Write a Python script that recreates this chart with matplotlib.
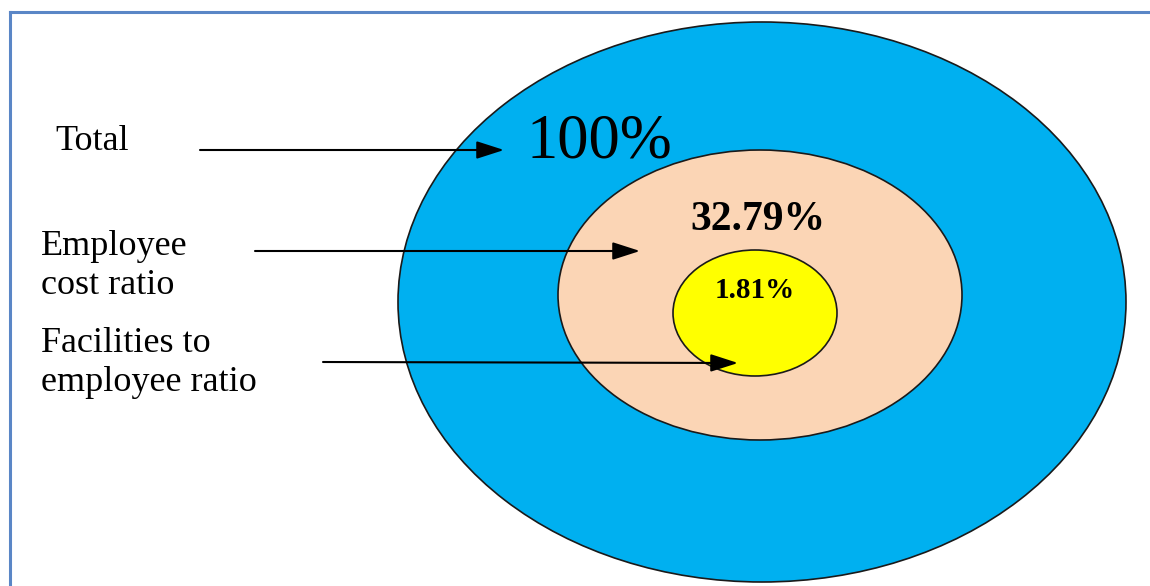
import matplotlib
matplotlib.use("Agg")
import matplotlib.pyplot as plt
from matplotlib.patches import Ellipse, FancyArrowPatch
from matplotlib.lines import Line2D

# Data
labels = ["Total", "Employee\ncost ratio", "Facilities to\nemployee ratio"]
values = ["100%", "32.79%", "1.81%"]
colors = ["#00B0F0", "#FBD5B5", "#FFFF00"]

# Layout (pixel coordinates)
ell_centers = [(762, 302), (760, 295), (755, 313)]
ell_sizes = [(728, 560), (404, 290), (164, 126)]
value_pos = [(599, 142), (758, 220), (755, 290)]
value_sizes = [45, 30, 21]
value_weights = ["normal", "bold", "bold"]
label_pos = [(55, 142), (41, 266), (41, 363)]
arrow_start = [(200, 150), (255, 251), (323, 362)]
arrow_end = [(504, 150), (640, 251), (738, 363)]

plt.rcParams["font.family"] = ["Liberation Serif", "DejaVu Serif"]

fig = plt.figure(figsize=(11.5, 5.86), dpi=100)
ax = fig.add_axes([0, 0, 1, 1])
ax.set_xlim(0, 1150)
ax.set_ylim(586, 0)
ax.axis("off")

for (cx, cy), (w, h), c in zip(ell_centers, ell_sizes, colors):
    ax.add_patch(Ellipse((cx, cy), w, h, facecolor=c, edgecolor="#1a1a1a", lw=1.2))

for (x, y), v, s, wt in zip(value_pos, values, value_sizes, value_weights):
    ax.text(x, y, v, ha="center", va="center", fontsize=s, fontweight=wt, color="black")

for (x, y), lab in zip(label_pos, labels):
    ax.text(x, y, lab, ha="left", va="center", fontsize=26, color="black", linespacing=1.22)

for s, e in zip(arrow_start, arrow_end):
    ax.add_patch(FancyArrowPatch(s, e, arrowstyle="-|>,head_length=1.4,head_width=0.45",
                                 mutation_scale=12, color="black", lw=1.5, shrinkA=0, shrinkB=0))

# frame lines (left and top)
ax.add_line(Line2D([9.5, 9.5], [586, 11.5], color="#5A86C6", lw=2.2))
ax.add_line(Line2D([9.5, 1150], [11.5, 11.5], color="#5A86C6", lw=2.2))

fig.savefig("out.png", dpi=100, facecolor="white")
